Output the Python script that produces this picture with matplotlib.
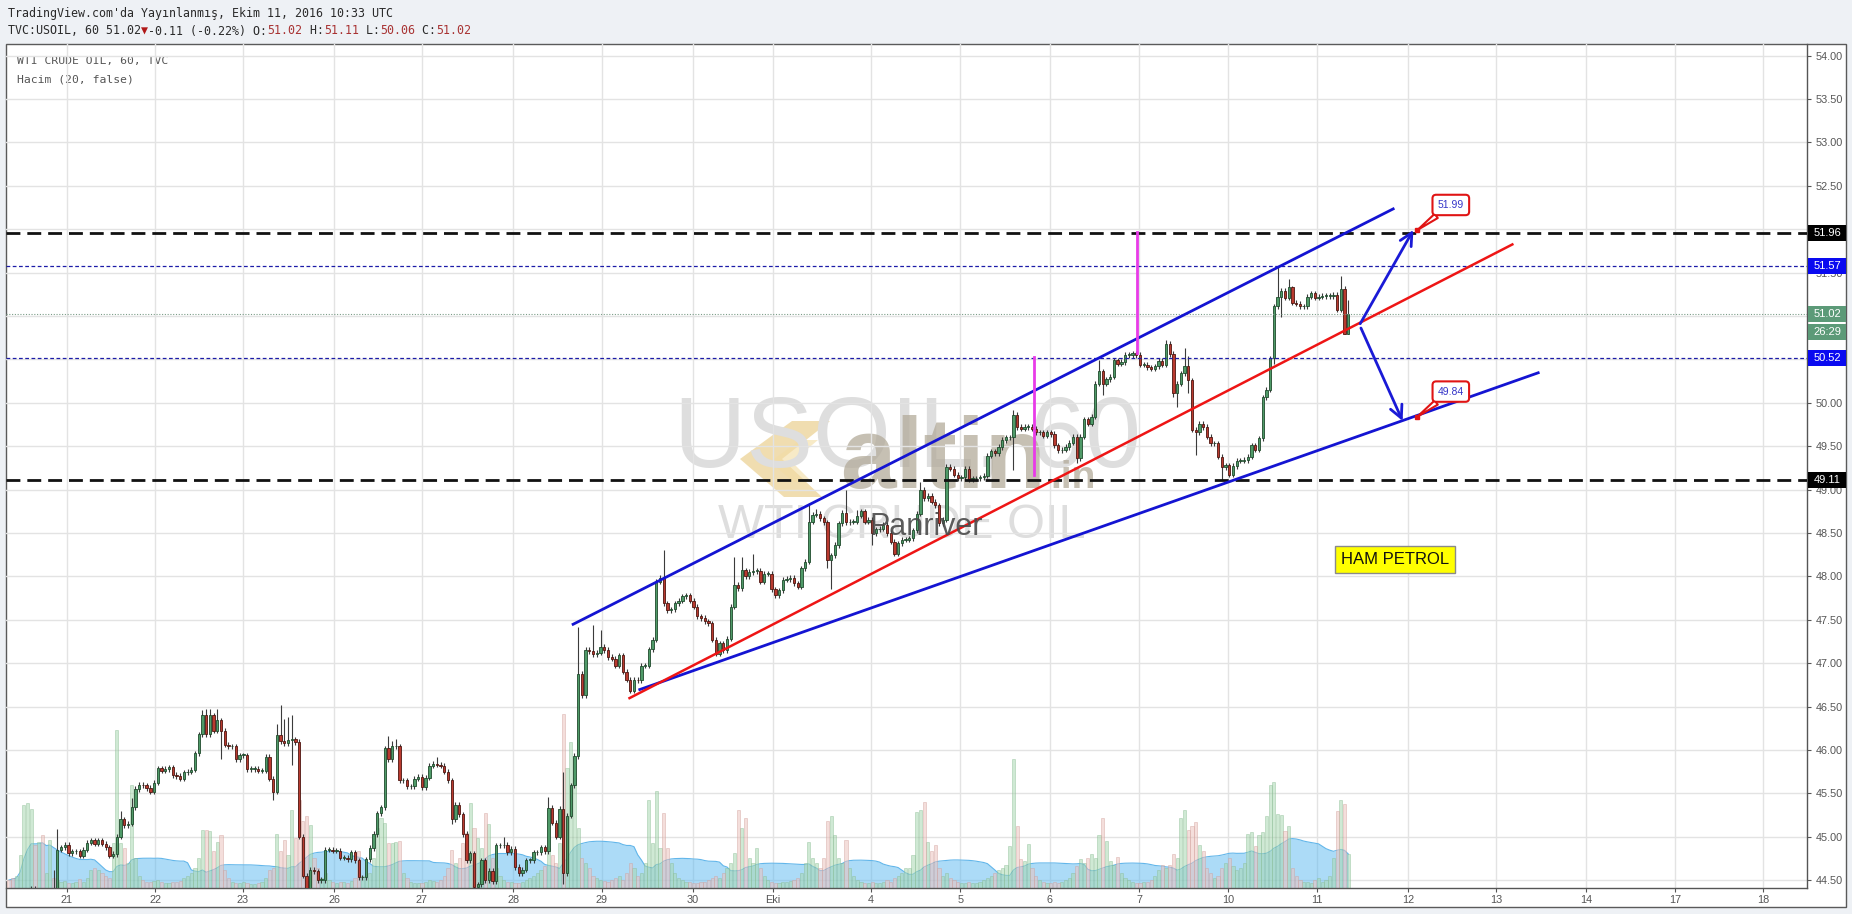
import numpy as np
import pandas as pd
import matplotlib
matplotlib.use('Agg')
import matplotlib.pyplot as plt
from matplotlib.patches import Rectangle, Polygon
from matplotlib.transforms import blended_transform_factory

plt.rcParams['font.family'] = ['Liberation Sans', 'DejaVu Sans']

# TVC:USOIL 60 min bars, 20 Sep - 11 Oct 2016
first_open = 44.00
closes = [
    # Sep 20 (mostly under the visible range)
    43.95, 43.90, 43.98, 44.05, 44.20, 44.32, 44.40, 44.30, 44.36, 44.28, 44.30, 44.38, 44.35,
    # Sep 21 - 23
    44.85, 44.88, 44.91, 44.81, 44.83, 44.83, 44.78, 44.85, 44.93, 44.96,
    44.92, 44.96, 44.92, 44.88, 44.78, 44.80, 45.00, 45.20, 45.13, 45.15,
    45.34, 45.55, 45.60, 45.59, 45.56, 45.52, 45.62, 45.79, 45.76, 45.78,
    45.80, 45.71, 45.70, 45.67, 45.74, 45.75, 45.77, 45.96, 46.18, 46.40,
    46.18, 46.40, 46.22, 46.34, 46.22, 46.06, 46.04, 46.04, 45.89, 45.94,
    45.94, 45.78, 45.78, 45.78, 45.76, 45.76, 45.92, 45.67, 45.52, 46.17,
    46.10, 46.08, 46.11, 46.12, 46.09, 45.00, 44.55, 44.40,
    # Sep 26 - 28
    44.62, 44.60, 44.50, 44.50, 44.85, 44.85, 44.84, 44.84, 44.76, 44.76,
    44.74, 44.82, 44.73, 44.53, 44.53, 44.74, 44.87, 45.03, 45.27, 45.34,
    46.02, 45.89, 46.04, 46.04, 45.65, 45.65, 45.58, 45.58, 45.67, 45.69,
    45.57, 45.68, 45.82, 45.84, 45.83, 45.82, 45.75, 45.65, 45.20, 45.37,
    45.26, 45.03, 44.73, 44.81, 44.42, 44.45, 44.73, 44.50, 44.61, 44.49,
    44.90, 44.90, 44.91, 44.82, 44.86, 44.65, 44.58, 44.62, 44.73, 44.73,
    44.82, 44.82, 44.88, 44.83, 45.33, 45.16, 45.00, 45.32, 44.58, 45.24,
    45.59, 45.93, 46.88, 46.63, 47.15,
    # Sep 29 - Oct 4
    47.14, 47.10, 47.12, 47.19, 47.15, 47.07, 47.05, 46.97, 47.09, 46.90,
    46.81, 46.68, 46.81, 46.80, 46.97, 46.97, 47.16, 47.27, 47.94, 47.98,
    47.69, 47.61, 47.62, 47.69, 47.72, 47.77, 47.78, 47.72, 47.65, 47.54,
    47.52, 47.48, 47.46, 47.27, 47.11, 47.23, 47.15, 47.28, 47.65, 47.90,
    47.86, 48.07, 48.00, 48.05, 48.06, 48.06, 47.94, 48.03, 48.03, 47.85,
    47.78, 47.84, 47.96, 47.97, 47.98, 47.92, 47.88, 48.09, 48.17, 48.63,
    48.71, 48.72, 48.67, 48.62, 48.19, 48.24, 48.36, 48.61, 48.73, 48.62,
    48.63, 48.63, 48.70, 48.75, 48.63, 48.65, 48.50, 48.54, 48.55, 48.59,
    48.50, 48.40, 48.26, 48.38, 48.42, 48.42, 48.44, 48.53,
    # Oct 5 - 7
    48.72, 49.00, 48.90, 48.93, 48.86, 48.82, 48.61, 48.65, 49.26, 49.24,
    49.17, 49.13, 49.14, 49.24, 49.12, 49.13, 49.13, 49.14, 49.16, 49.39,
    49.44, 49.42, 49.49, 49.57, 49.60, 49.60, 49.86, 49.72, 49.70, 49.72,
    49.72, 49.70, 49.66, 49.66, 49.62, 49.66, 49.64, 49.51, 49.45, 49.46,
    49.49, 49.54, 49.61, 49.36, 49.61, 49.81, 49.76, 49.84, 50.22, 50.36,
    50.22, 50.27, 50.30, 50.49, 50.45, 50.47, 50.55, 50.55, 50.57, 50.55,
    50.44, 50.44, 50.41, 50.39, 50.42, 50.48, 50.44, 50.68, 50.56, 50.11,
    50.22, 50.34, 50.42, 50.26,
    # Oct 7 - 11
    49.69, 49.66, 49.76, 49.72, 49.61, 49.53, 49.53, 49.38, 49.26, 49.28,
    49.17, 49.27, 49.33, 49.33, 49.34, 49.38, 49.51, 49.46, 49.59, 50.06,
    50.15, 50.51, 51.11, 51.22, 51.29, 51.21, 51.33, 51.15, 51.14, 51.11,
    51.11, 51.22, 51.26, 51.21, 51.22, 51.23, 51.23, 51.23, 51.24, 51.07,
    51.31, 50.79, 51.02,
]

volumes = [
    8, 10, 12, 33, 83, 85, 79, 43, 46, 53, 15, 48, 10,
    8, 6, 7, 5, 5, 6, 9, 6, 10, 18, 20, 18, 15, 12, 10,
    45, 158, 45, 40, 25, 103, 30,
    12, 8, 6, 6, 7, 8, 6, 5, 5, 6, 6, 7, 10, 12, 15,
    20, 30, 58, 58, 57, 37, 46, 53, 18,
    10, 6, 5, 5, 6, 5, 4, 4, 5, 6, 10, 18, 20,
    54, 37, 48, 33, 78, 50, 88, 67, 72,
    63, 30, 20, 10, 15, 8, 6, 5, 6, 6, 5, 7, 10,
    37, 12, 10, 15, 30, 60, 70, 65, 45, 45, 46, 47,
    15, 10, 6, 5, 5, 5, 6, 8, 7, 6, 8,
    12, 20, 38, 25, 30, 45, 55, 85, 60, 50, 40, 75, 64, 30,
    20, 12, 8, 6, 6, 5, 5, 6, 8, 10, 12, 15, 18, 22,
    40, 33, 25, 45, 174, 120, 146, 110, 60, 30, 25,
    20, 12, 10, 8, 7, 6, 8, 10, 12, 8, 15, 25, 20, 12, 15, 25,
    88, 45, 97, 40, 75, 40, 25, 15,
    10, 8, 6, 6, 5, 5, 6, 6, 8, 10, 12, 10, 15, 20, 25, 35,
    78, 60, 70, 30, 25, 40, 20, 12,
    8, 6, 5, 5, 6, 6, 7, 8, 10, 15, 25,
    46, 30, 25, 20, 30, 67, 72, 53, 30, 25, 48, 20,
    12, 8, 6, 5, 5, 6, 5, 5, 6, 8, 6, 10, 12, 15, 20,
    20, 33, 76, 78, 86, 46, 37, 43, 20, 12,
    15, 10, 8, 6, 5, 5, 6, 5, 5, 6, 8, 10, 12, 15, 18, 20,
    23, 42, 129, 62, 29, 27, 44, 20,
    12, 8, 6, 5, 5, 6, 5, 6, 8, 10, 15, 22,
    29, 25, 30, 34, 30, 53, 70, 47, 27, 23, 31, 15,
    10, 8, 6, 5, 5, 6, 6, 8, 12, 18,
    23, 20, 23, 34, 30, 70, 78, 58,
    62, 66, 43, 37, 20,
    15, 10, 12, 20, 25, 30, 22, 18, 20, 25,
    54, 56, 42, 53, 56, 72, 103, 106, 74, 73, 57, 62, 20,
    12, 8, 6, 6, 5, 8, 10, 6, 8, 12,
    30, 77, 88, 84, 34,
]

# bars whose wicks stand out
spike_highs = {12: 44.62, 13: 45.09, 30: 45.30, 33: 45.45, 52: 46.46, 53: 46.47, 54: 46.47,
               56: 46.47, 72: 46.30, 73: 46.52, 74: 46.36, 75: 46.38, 76: 46.40, 102: 46.16,
               103: 46.10, 104: 46.12, 115: 45.92, 133: 45.00, 145: 45.46, 149: 45.75,
               153: 47.42, 157: 47.44, 159: 47.38, 176: 48.30, 195: 48.22, 197: 48.22,
               200: 48.26, 215: 48.84, 217: 48.77, 225: 48.99, 228: 48.76, 245: 49.09,
               270: 49.92, 293: 50.49, 302: 50.59, 311: 50.72, 316: 50.63, 317: 50.54,
               341: 51.57, 344: 51.43, 345: 51.34, 358: 51.46, 360: 51.18}
spike_lows = {57: 45.90, 71: 45.42, 76: 45.83, 119: 45.15, 149: 44.45, 220: 48.09,
              221: 47.85, 232: 48.36, 270: 49.22, 287: 49.30, 294: 50.09, 313: 50.07,
              314: 49.95, 317: 50.11, 319: 49.40, 326: 49.11, 340: 50.45, 342: 50.99,
              359: 50.79, 360: 50.79}

day_labels = ['21', '22', '23', '26', '27', '28', '29', '30', 'Eki', '4',
              '5', '6', '7', '10', '11', '12', '13', '14', '17', '18']
day_tick_pos = [15.6, 39.3, 62.9, 87.4, 111.0, 135.5, 159.4, 183.9, 205.4, 231.7,
                255.7, 279.8, 303.8, 327.7, 351.6, 376.1, 399.7, 423.9, 447.9, 471.5]

# drawings on the chart (bar index, price)
upper_channel = ([151.3, 372.4], [47.44, 52.24])
red_trend = ([166.5, 404.4], [46.59, 51.83])
lower_channel = ([169.2, 411.4], [46.69, 50.35])
magenta_marks = [(275.5, 49.17, 50.53), (303.3, 50.57, 51.97)]
arrow_up = ((363.2, 50.91), (377.5, 51.99))
arrow_down = ((363.4, 50.86), (374.6, 49.79))
targets = [51.99, 49.84]
target_bar = 378.6

dashed_levels = [51.96, 49.11]
blue_levels = [51.57, 50.52]
last_price = 51.02
countdown = '26:29'

W, H = 1852, 914
fig = plt.figure(figsize=(W / 100, H / 100), dpi=100)
fig.patch.set_facecolor('#eef1f5')

# background layer in pixel units: frame, header, watermark
bg = fig.add_axes([0, 0, 1, 1], zorder=0)
bg.set_xlim(0, W)
bg.set_ylim(H, 0)
bg.axis('off')
bg.add_patch(Rectangle((6, 44), 1840, 863, fc='white', ec='#5a5a5a', lw=1))

mono = ['DejaVu Sans Mono', 'DejaVu Sans']
bg.text(8, 13, "TradingView.com'da Yayınlanmış, Ekim 11, 2016 10:33 UTC", family=mono,
        fontsize=8.4, color='#2a2a2a', va='center')
char_w = 7.02
pieces = [('TVC:USOIL, 60 51.02', '#2a2a2a'), ('▼', '#b01818'), ('-0.11 (-0.22%) O:', '#2a2a2a'),
          ('51.02', '#a83232'), (' H:', '#2a2a2a'), ('51.11', '#a83232'), (' L:', '#2a2a2a'),
          ('50.06', '#a83232'), (' C:', '#2a2a2a'), ('51.02', '#a83232')]
cx = 8
for txt, col in pieces:
    bg.text(cx, 31, txt, family=mono, fontsize=8.4, color=col, va='center')
    cx += len(txt) * char_w
bg.text(17, 61, 'WTI CRUDE OIL, 60, TVC', family=mono, fontsize=8.2, color='#555555', va='center')
bg.text(17, 79, 'Hacim (20, false)', family=mono, fontsize=8.2, color='#555555', va='center')

# watermark + site logo
bg.text(907, 467, 'USOIL, 60', fontsize=72, color='#dedede', ha='center', va='baseline')
bg.text(902, 538, 'WTI CRUDE OIL', fontsize=35, color='#dedede', ha='center', va='baseline')
bg.add_patch(Polygon([(792, 421), (830, 421), (782, 459), (822, 497), (784, 497), (740, 459)],
                     closed=True, fc='#e3bd62', ec='none', alpha=0.5))
bg.add_patch(Polygon([(800, 440), (818, 440), (792, 462), (812, 482), (794, 482), (770, 462)],
                     closed=True, fc='#f3dca3', ec='none', alpha=0.6))
bg.text(840, 488, 'altin', fontsize=72, fontweight='bold', color='#b3ab9a', alpha=0.75, va='baseline')
bg.text(1050, 488, '.in', fontsize=28, fontweight='bold', color='#b3ab9a', alpha=0.75, va='baseline')

# main price pane
left, right, top, bottom = 6, 1807, 44, 888
ax = fig.add_axes([left / W, 1 - bottom / H, (right - left) / W, (bottom - top) / H], zorder=2)
ax.set_facecolor('none')
ax.set_xlim(-0.8, 483.3)
ax.set_ylim(44.409, 54.1325)
ax.set_axisbelow(True)
ax.grid(True, color='#e3e3e3', lw=1)

price_ticks = np.arange(44.5, 54.01, 0.5)
ax.yaxis.tick_right()
ax.set_yticks(price_ticks)
ax.set_yticklabels([f'{v:.2f}' for v in price_ticks])
ax.set_xticks(day_tick_pos)
ax.set_xticklabels(day_labels)
ax.tick_params(axis='both', colors='#555555', labelcolor='#555555', labelsize=7.8, length=3, width=0.8)
ax.tick_params(axis='y', pad=3)
ax.tick_params(axis='x', pad=2)
for s in ['left', 'top']:
    ax.spines[s].set_visible(False)
for s in ['right', 'bottom']:
    ax.spines[s].set_color('#555555')
    ax.spines[s].set_linewidth(1)

closes = np.array(closes)
n = len(closes)
x = np.arange(n)
opens = np.r_[first_open, closes[:-1]]
up = closes >= opens
highs = np.maximum(opens, closes) + 0.03
lows = np.minimum(opens, closes) - 0.03
for i, v in spike_highs.items():
    highs[i] = v
for i, v in spike_lows.items():
    lows[i] = v

# volume overlay along the bottom of the pane, in pixel heights
vol = pd.Series(volumes, dtype=float)
vol_ma = vol.rolling(20, min_periods=1).mean()
pane_h = bottom - top
vtr = blended_transform_factory(ax.transData, ax.transAxes)
ax.fill_between(x, 0, vol_ma / pane_h, transform=vtr, color='#5ab8f0', alpha=0.5, lw=0, zorder=1)
ax.plot(x, vol_ma / pane_h, transform=vtr, color='#62b6ea', lw=0.8, zorder=1)
vup = np.array(up[:len(vol)])
ax.bar(x[vup], vol[vup] / pane_h, width=0.85, bottom=0, transform=vtr, color='#a9d8b1',
       edgecolor='#86b990', lw=0.5, alpha=0.55, zorder=2)
ax.bar(x[~vup], vol[~vup] / pane_h, width=0.85, bottom=0, transform=vtr, color='#ecc3be',
       edgecolor='#cf9d97', lw=0.5, alpha=0.55, zorder=2)

# candles
ax.vlines(x, lows, highs, color='#3b3b3b', lw=0.8, zorder=3)
body_h = np.maximum(np.abs(closes - opens), 0.008)
body_b = np.minimum(opens, closes)
ax.bar(x[up], body_h[up], bottom=body_b[up], width=0.62, color='#4f9a68', edgecolor='#1f4a2c',
       lw=0.6, zorder=4)
ax.bar(x[~up], body_h[~up], bottom=body_b[~up], width=0.62, color='#b93a2f', edgecolor='#4d1610',
       lw=0.6, zorder=4)

# horizontal levels
for lv in dashed_levels:
    ax.axhline(lv, color='#111111', lw=2, ls=(0, (5, 2.5)), zorder=5)
for lv in blue_levels:
    ax.axhline(lv, color='#1c1ca8', lw=0.9, ls=(0, (3, 2)), zorder=5)
ax.axhline(last_price, color='#7b9d88', lw=0.8, ls=(0, (1, 1.5)), zorder=5)

# trend channel
ax.plot(*upper_channel, color='#1414d2', lw=2, zorder=6, solid_capstyle='butt')
ax.plot(*lower_channel, color='#1414d2', lw=2, zorder=6, solid_capstyle='butt')
ax.plot(*red_trend, color='#ee1515', lw=1.8, zorder=6, solid_capstyle='butt')
for xm, y0, y1 in magenta_marks:
    ax.plot([xm, xm], [y0, y1], color='#e83be8', lw=2, zorder=6)

for start, end in [arrow_up, arrow_down]:
    ax.annotate('', xy=end, xytext=start, zorder=7,
                arrowprops=dict(arrowstyle='->,head_length=0.9,head_width=0.45', color='#1a1ad6',
                                lw=2, shrinkA=0, shrinkB=0))

for tv in targets:
    ax.annotate(f'{tv:.2f}', xy=(target_bar, tv), xytext=(24, 18), textcoords='offset points',
                ha='center', va='center', fontsize=7.5, color='#3434c8', zorder=8,
                bbox=dict(boxstyle='round,pad=0.5,rounding_size=0.35', fc='white', ec='#e01414', lw=1.5),
                arrowprops=dict(arrowstyle='wedge,tail_width=0.5', fc='white', ec='#e01414', lw=1.5,
                                shrinkA=0, shrinkB=0))
    ax.plot(target_bar, tv, 's', ms=2.5, color='#e01414', zorder=9)

ax.text(372.6, 48.19, 'HAM PETROL', ha='center', va='center', fontsize=12, color='#111111', zorder=8,
        bbox=dict(boxstyle='square,pad=0.35', fc='#ffff00', ec='#8a8a8a', lw=1))
ax.text(870, 535, 'Panriver', transform=bg.transData, fontsize=22, color='#4a4a4a', alpha=0.9,
        va='baseline', zorder=8)

# price tags on the scale
tag_tr = blended_transform_factory(ax.transAxes, ax.transData)
tag_h = 16 / 86.8
tag_w = 38 / (right - left)
tags = [(51.96, f'{51.96:.2f}', '#000000'), (51.57, f'{51.57:.2f}', '#0a0af0'),
        (last_price, f'{last_price:.2f}', '#5c9a78'), (last_price - 0.2, countdown, '#5c9a78'),
        (50.52, f'{50.52:.2f}', '#0a0af0'), (49.11, f'{49.11:.2f}', '#000000')]
for yv, txt, col in tags:
    ax.add_patch(Rectangle((1.0006, yv - tag_h / 2), tag_w, tag_h, transform=tag_tr, fc=col, ec='none',
                           clip_on=False, zorder=10))
    ax.text(1.0006 + tag_w / 2, yv, txt, transform=tag_tr, ha='center', va='center', fontsize=8,
            color='white', clip_on=False, zorder=11)

fig.savefig('out.png', dpi=100, facecolor=fig.get_facecolor())
